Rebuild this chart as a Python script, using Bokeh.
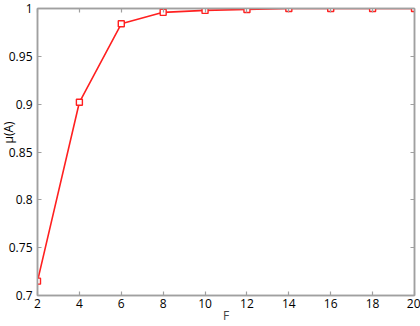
import math
from bokeh.plotting import figure
from bokeh.models import LinearAxis, Title, FixedTicker, Range1d
from bokeh.embed import file_html
from bokeh.resources import INLINE

# Data
f_values = [2, 4, 6, 8, 10, 12, 14, 16, 18, 20]
mu_values = [0.715, 0.902, 0.984, 0.996, 0.998, 0.999, 1.0, 1.0, 1.0, 1.0]
x_ticks = [2, 4, 6, 8, 10, 12, 14, 16, 18, 20]
y_ticks = [0.7, 0.75, 0.8, 0.85, 0.9, 0.95, 1.0]
y_tick_labels = ["0.7", "0.75", "0.8", "0.85", "0.9", "0.95", "1"]
x_label = "F"
y_label = "μ(A)"

FONT = "Open Sans"
AXIS_COLOR = "#a0a0a0"
RED = "#ff2020"

p = figure(width=420, height=326, output_backend="svg", toolbar_location=None,
           x_range=Range1d(2, 20), y_range=Range1d(0.7, 1.0),
           min_border_left=37, min_border_right=6, min_border_top=8, min_border_bottom=29,
           x_axis_location=None, y_axis_location=None)
p.outline_line_color = AXIS_COLOR
p.outline_line_width = 1.5
p.grid.visible = False
p.background_fill_color = "white"
p.border_fill_color = "white"

def style_axis(ax, show_labels):
    ax.axis_line_color = AXIS_COLOR
    ax.axis_line_width = 1.5
    ax.major_tick_line_color = AXIS_COLOR
    ax.major_tick_line_width = 1.2
    ax.major_tick_in = 4
    ax.major_tick_out = 0
    ax.minor_tick_line_color = None
    ax.major_label_text_font = FONT
    ax.major_label_text_color = "black"
    if show_labels:
        ax.major_label_text_font_size = "12px"
    else:
        ax.major_label_text_color = None
        ax.major_label_text_font_size = "0px"
        ax.major_label_standoff = 0

xb = LinearAxis(ticker=FixedTicker(ticks=x_ticks))
style_axis(xb, True)
xb.major_label_standoff = 3
xb.axis_label = x_label
xb.axis_label_text_font = FONT
xb.axis_label_text_font_size = "12px"
xb.axis_label_text_font_style = "normal"
xb.axis_label_standoff = -4
p.add_layout(xb, "below")

xt = LinearAxis(ticker=FixedTicker(ticks=x_ticks))
style_axis(xt, False)
p.add_layout(xt, "above")

yl = LinearAxis(ticker=FixedTicker(ticks=y_ticks))
style_axis(yl, True)
yl.major_label_standoff = 5
yl.major_label_overrides = {t: s for t, s in zip(y_ticks, y_tick_labels)}
p.add_layout(yl, "left")

yr = LinearAxis(ticker=FixedTicker(ticks=y_ticks))
style_axis(yr, False)
p.add_layout(yr, "right")

p.line(f_values, mu_values, line_color=RED, line_width=1.6)
p.scatter(f_values, mu_values, marker="square", size=6, line_color=RED,
          line_width=1.4, fill_color="white")

ytitle = Title(text=y_label, align="left", offset=152, standoff=-22,
               text_font=FONT, text_font_size="12px", text_font_style="normal",
               text_color="black")
p.add_layout(ytitle, "left")

open("out.html", "w").write(file_html(p, INLINE))
